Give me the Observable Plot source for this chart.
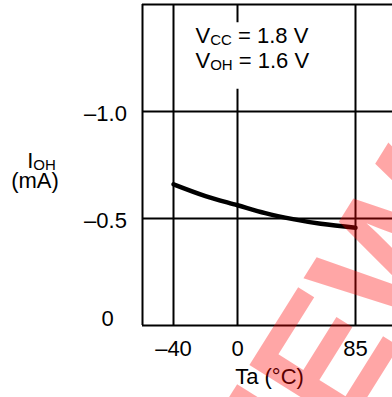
<!DOCTYPE html>
<html><head><meta charset="utf-8">
<script src="https://cdn.jsdelivr.net/npm/d3@7"></script>
<script src="https://cdn.jsdelivr.net/npm/@observablehq/plot@0.6"></script>
<style>html,body{margin:0;padding:0;background:#fff;overflow:hidden}</style>
</head><body><div id="chart"></div>
<script>
// ---- data ----
const temps = [-40, -20, 0, 20, 40, 60, 85];
const iohValues = [-0.66, -0.605, -0.562, -0.525, -0.497, -0.475, -0.457];
const xTicks = [-40, 0, 85];
const xTickLabels = ["–40", "0", "85"];
const yTicks = [0, -0.5, -1.0];
const yTickLabels = ["0", "–0.5", "–1.0"];
const annotation = ["VCC = 1.8 V", "VOH = 1.6 V"];
const yLabelLines = ["IOH", "(mA)"];
const xLabel = "Ta (°C)";
const watermark = "PREVIEW";

// ---- scale setup (datasheet axis is not to scale between segments) ----
const xDomain = [-59.4, -40, 0, 85, 113];
const xRange = [142, 173, 237, 355, 394];
const yDomain = [0, -1.5];

const data = temps.map((t, i) => ({t, v: iohValues[i]}));
const xTickData = xTicks.map((v, i) => ({v, label: xTickLabels[i]}));
const yTickData = yTicks.map((v, i) => ({v, label: yTickLabels[i]}));
const font = "'Liberation Sans', Arial, Helvetica, sans-serif";

const chart = Plot.plot({
  width: 392, height: 397,
  marginLeft: 142, marginRight: 0, marginTop: 4, marginBottom: 72,
  style: {fontFamily: font, fontSize: "22px", background: "white", color: "black"},
  x: {type: "linear", domain: xDomain, range: xRange, axis: null},
  y: {type: "linear", domain: yDomain, axis: null},
  marks: [
    // frame (left, top, bottom)
    Plot.ruleX([xDomain[0]], {stroke: "black", strokeWidth: 2}),
    Plot.ruleY(yDomain, {stroke: "black", strokeWidth: 2}),
    // grid
    Plot.ruleX(xTicks, {stroke: "black", strokeWidth: 2}),
    Plot.ruleY(yTicks.filter(d => d !== 0), {stroke: "black", strokeWidth: 2}),
    // annotation background
    Plot.dot([annotation], {frameAnchor: "top-left", dx: 95, dy: 51, symbol: "square", r: 37.5, fill: "white", stroke: "none"}),
    // curve
    Plot.line(data, {x: "t", y: "v", curve: "monotone-x", stroke: "black", strokeWidth: 4.5}),
    // annotation text (two lines, last baseline at y = 67)
    Plot.text([annotation.join("\n")], {frameAnchor: "top-left", dx: 53, dy: 63, lineAnchor: "bottom", textAnchor: "start", lineHeight: 25 / 22, fontSize: 22, fill: "black"}),
    // y tick labels
    Plot.text(yTickData, {filter: d => d.v !== 0, y: "v", text: "label", frameAnchor: "left", dx: -37, dy: 9.5, textAnchor: "middle", lineAnchor: "bottom", fontSize: 22, fill: "black"}),
    Plot.text(yTickData, {filter: d => d.v === 0, y: "v", text: "label", frameAnchor: "left", dx: -35, dy: 0, textAnchor: "middle", lineAnchor: "bottom", fontSize: 22, fill: "black"}),
    // y label
    Plot.text([yLabelLines[0]], {frameAnchor: "left", dx: -115.3, dy: 3.2, textAnchor: "start", lineAnchor: "bottom", fontSize: 22, fill: "black"}),
    Plot.text([yLabelLines[1]], {frameAnchor: "left", dx: -131.3, dy: 23.2, textAnchor: "start", lineAnchor: "bottom", fontSize: 22, fill: "black"}),
    // x tick labels
    Plot.text(xTickData, {x: "v", text: "label", frameAnchor: "bottom", dy: 30, textAnchor: "middle", lineAnchor: "bottom", fontSize: 22, fill: "black"}),
    // x label
    Plot.text([xLabel], {frameAnchor: "bottom", dx: 2, dy: 58, textAnchor: "middle", lineAnchor: "bottom", fontSize: 22, fill: "black"}),
    // watermark (page-scale, only a part of it falls inside the chart)
    Plot.text([watermark], {frameAnchor: "bottom-right", dx: 95, dy: -121, rotate: -58, textAnchor: "end", lineAnchor: "bottom", fontSize: 170, fontWeight: "bold", fill: "#ff0000", fillOpacity: 0.35})
  ]
});

// subscripts (V_CC, V_OH, I_OH)
const NS = "http://www.w3.org/2000/svg";
chart.querySelectorAll("text, tspan").forEach(el => {
  if (el.children.length) return;
  const m = /^([VI])(CC|OH)(.*)$/.exec(el.textContent);
  if (!m) return;
  el.textContent = "";
  el.append(m[1]);
  const sub = document.createElementNS(NS, "tspan");
  sub.setAttribute("font-size", "15px");
  sub.setAttribute("dy", "2");
  sub.textContent = m[2];
  el.append(sub);
  if (m[3]) {
    const rest = document.createElementNS(NS, "tspan");
    rest.setAttribute("dy", "-2");
    rest.textContent = m[3];
    el.append(rest);
  }
});

document.getElementById("chart").append(chart);
</script>
</body></html>
